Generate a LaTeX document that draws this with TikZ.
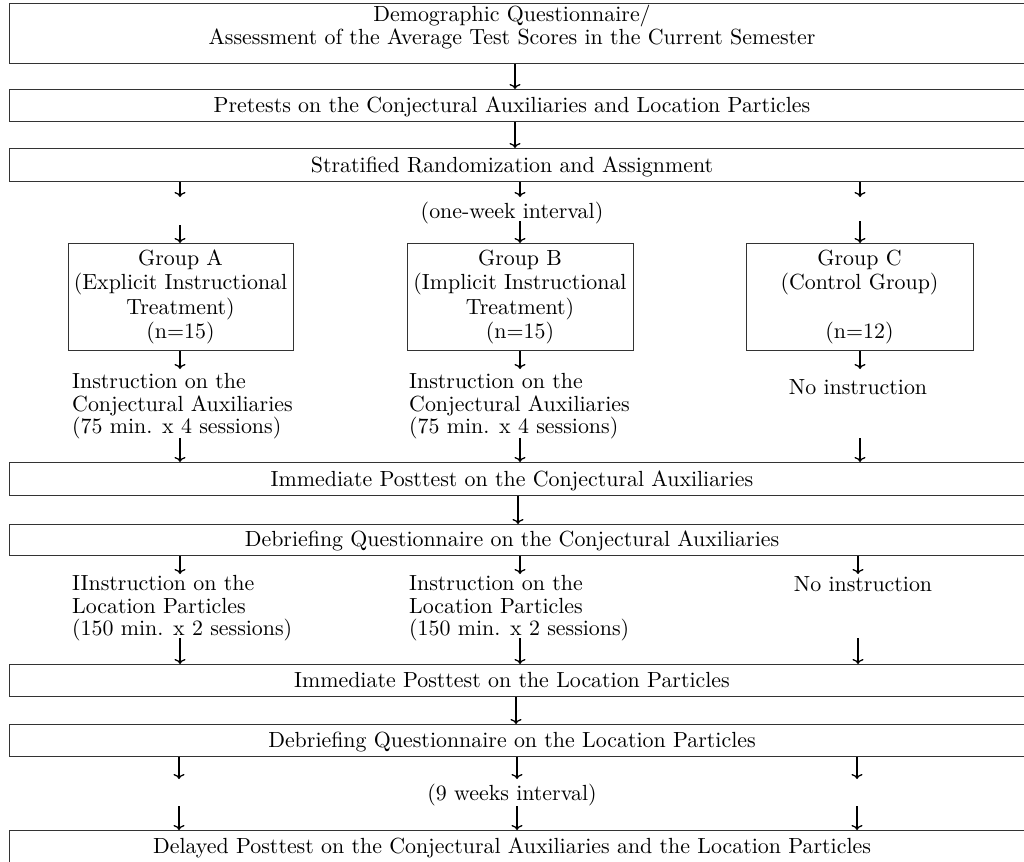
\documentclass[tikz,border=0pt]{standalone}
\usetikzlibrary{arrows.meta}
\usepackage{fontspec}
\setmainfont{lmroman10-regular.otf}
\newcommand\fsn{\fontsize{21.9}{24.5}\selectfont}
\newcommand\fsi{\fontsize{21.9}{22.6}\selectfont}
\newcommand\fst{\fontsize{21.9}{23}\selectfont}
\begin{document}
\begin{tikzpicture}[x=1pt,y=-1pt,
  box/.style={draw=black!80, line width=1pt, inner sep=0pt, anchor=north west, minimum width=1040},
  gbox/.style={draw=black!80, line width=1pt, inner sep=0pt, align=center, font=\fsn, minimum height=107},
  txt/.style={inner sep=0pt, font=\fsn},
  blk/.style={inner sep=0pt, font=\fsi, align=left, anchor=north west},
  arr/.style={draw=black, line width=1.3pt, -{To[length=5pt,width=11pt]}}]
\useasboundingbox (0,0) rectangle (1024,861);
\clip (0,0) rectangle (1024,861);
\fill[white] (0,0) rectangle (1024,861);

% full-width boxes
\node[box, minimum height=60] (B1) at (8.5,3) {};
\node[box, minimum height=32] (B2) at (8.5,89) {};
\node[box, minimum height=33] (B3) at (8.5,148) {};
\node[box, minimum height=33] (B4) at (8.5,462) {};
\node[box, minimum height=31] (B5) at (8.5,524) {};
\node[box, minimum height=32] (B6) at (8.5,664) {};
\node[box, minimum height=32] (B7) at (8.5,724) {};
\node[box, minimum height=60] (B8) at (8.5,830) {};

% texts of full-width boxes
\node[txt, anchor=north, align=center, font=\fst] (T1) at (512,5) {Demographic Questionnaire/\\Assessment of the Average Test Scores in the Current Semester};
\node[txt, anchor=base] (T2) at (512,112.5) {Pretests on the Conjectural Auxiliaries and Location Particles};
\node[txt, anchor=base] (T3) at (512,172) {Stratified Randomization and Assignment};
\node[txt, anchor=base] (T4) at (512,486.5) {Immediate Posttest on the Conjectural Auxiliaries};
\node[txt, anchor=base] (T5) at (512,546.5) {Debriefing Questionnaire on the Conjectural Auxiliaries};
\node[txt, anchor=base] (T6) at (512,687.5) {Immediate Posttest on the Location Particles};
\node[txt, anchor=base] (T7) at (512,747.5) {Debriefing Questionnaire on the Location Particles};
\node[txt, anchor=base] (T8) at (512,853.5) {Delayed Posttest on the Conjectural Auxiliaries and the Location Particles};

% interval labels
\node[txt, anchor=base] (I1) at (512,218) {(one-week interval)};
\node[txt, anchor=base] (I2) at (512,800.5) {(9 weeks interval)};

% group boxes
\node[gbox, minimum width=225] (GA) at (180.5,297) {Group A\\(Explicit Instructional\\Treatment)\\(n=15)};
\node[gbox, minimum width=226] (GB) at (520,297) {Group B\\(Implicit Instructional\\Treatment)\\(n=15)};
\node[gbox, minimum width=227] (GC) at (859.5,297) {Group C\\(Control Group)\\[24.5pt](n=12)};

% instruction blocks
\node[blk] (IA1) at (72,373) {Instruction on the\\Conjectural Auxiliaries\\(75 min. x 4 sessions)};
\node[blk] (IB1) at (409,373) {Instruction on the\\Conjectural Auxiliaries\\(75 min. x 4 sessions)};
\node[txt, anchor=base] (IC1) at (858,394) {No instruction};
\node[blk] (IA2) at (72,575) {IInstruction on the\\Location Particles\\(150 min. x 2 sessions)};
\node[blk] (IB2) at (409,575) {Instruction on the\\Location Particles\\(150 min. x 2 sessions)};
\node[txt, anchor=base] (IC2) at (863,591) {No instruction};

% columns and free arrow ends
\coordinate (cL) at (180,0);
\coordinate (cM) at (520,0);
\coordinate (cR) at (860,0);
\coordinate (cT) at (515,0);
\coordinate (a1L) at (180,197);  \coordinate (a1M) at (520,197);  \coordinate (a1R) at (860,197);
\coordinate (a2L) at (180,225);  \coordinate (a2M) at (520,221);  \coordinate (a2R) at (860,221);
\coordinate (a3L) at (180,369);  \coordinate (a3M) at (520,369);  \coordinate (a3R) at (860,369);
\coordinate (a4L) at (180,438);  \coordinate (a4M) at (520,438);  \coordinate (a4R) at (860,438);
\coordinate (a5L) at (180,574);  \coordinate (a5M) at (520,574);  \coordinate (a5R) at (858,574);
\coordinate (a6L) at (180,638);  \coordinate (a6M) at (520,638);  \coordinate (a6R) at (858,638);
\coordinate (a7L) at (179,779);  \coordinate (a7M) at (517,779);  \coordinate (a7R) at (857,779);
\coordinate (a8L) at (179,806);  \coordinate (a8M) at (517,806);  \coordinate (a8R) at (857,806);

% arrows
\draw[arr] (B1.south -| cT) -- (B2.north -| cT);
\draw[arr] (B2.south -| cT) -- (B3.north -| cT);
\foreach \c in {L,M,R}{
  \draw[arr] (B3.south -| a1\c) -- (a1\c);
  \draw[arr] (a4\c) -- (a4\c |- B4.north);
  \draw[arr] (B5.south -| a5\c) -- (a5\c);
  \draw[arr] (a6\c) -- (a6\c |- B6.north);
  \draw[arr] (B7.south -| a7\c) -- (a7\c);
  \draw[arr] (a8\c) -- (a8\c |- B8.north);
}
\draw[arr] (a2L) -- (a2L |- GA.north);
\draw[arr] (a2M) -- (a2M |- GB.north);
\draw[arr] (a2R) -- (a2R |- GC.north);
\draw[arr] (GA.south -| a3L) -- (a3L);
\draw[arr] (GB.south -| a3M) -- (a3M);
\draw[arr] (GC.south -| a3R) -- (a3R);
\draw[arr] (B4.south -| 518,0) -- (B5.north -| 518,0);
\draw[arr] (B6.south -| 516,0) -- (B7.north -| 516,0);
\end{tikzpicture}
\end{document}
